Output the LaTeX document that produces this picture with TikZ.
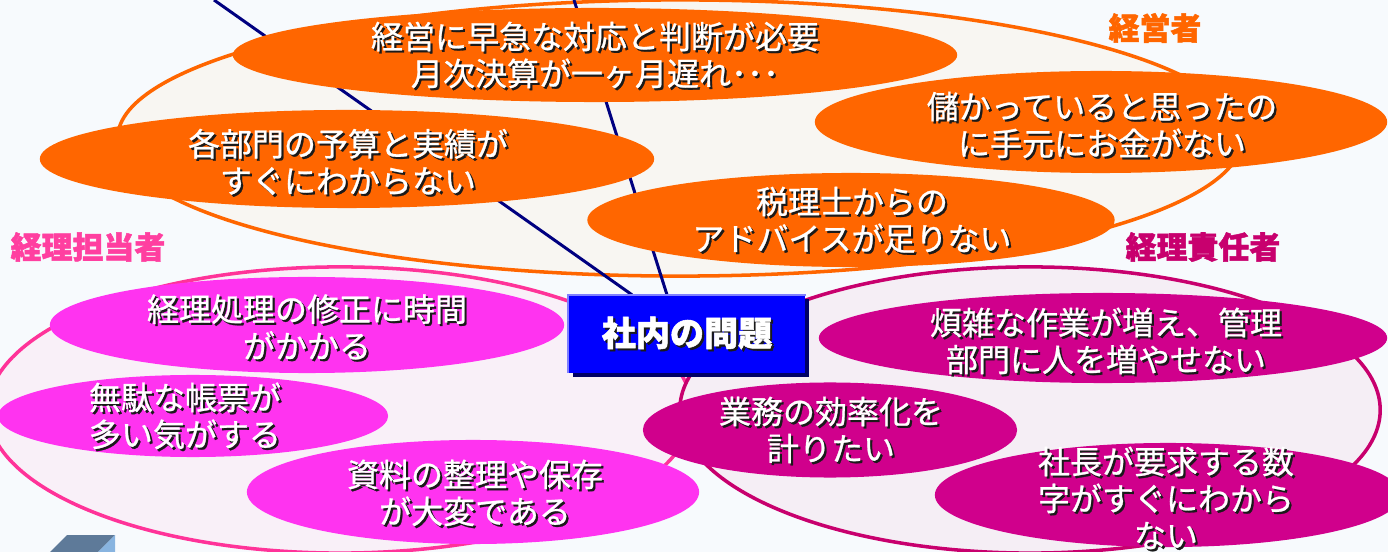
\documentclass[tikz,border=0pt]{standalone}
\usepackage{fontspec}
\setmainfont{Noto Sans CJK JP}[BoldFeatures={FakeBold=1.5}]
\newfontfamily\bubfont{Noto Sans CJK JP}[FakeBold=0.8]
\usetikzlibrary{shapes.geometric,shadows,positioning}

\definecolor{bgc}{HTML}{F7FAFD}
\definecolor{orng}{HTML}{FF6600}
\definecolor{orngbg}{HTML}{F8F6F2}
\definecolor{pinkline}{HTML}{FF3399}
\definecolor{pinkbub}{HTML}{FF33F0}
\definecolor{pinkbg}{HTML}{F9F0F8}
\definecolor{pinklab}{HTML}{FF3FA0}
\definecolor{purpline}{HTML}{C8006E}
\definecolor{purpbub}{HTML}{D0008C}
\definecolor{purpbg}{HTML}{F5EEF5}
\definecolor{navy}{HTML}{000080}
\definecolor{boxblue}{HTML}{0000FF}
\definecolor{boxedge}{HTML}{7F7FFF}
\definecolor{boxshadow}{HTML}{000066}
\definecolor{txtshadow}{HTML}{1A1A1A}
\definecolor{slabtop}{HTML}{5E7A99}
\definecolor{slabside}{HTML}{88B4E0}

\newcommand\sh[1]{\leavevmode\rlap{\kern0.6pt\raisebox{-0.6pt}{\color{txtshadow}#1}}#1}

\pgfdeclarelayer{bg}
\pgfdeclarelayer{mid}
\pgfsetlayers{bg,mid,main}

\begin{document}
\begin{tikzpicture}[x=0.01cm, y=-0.01cm,
  group/.style = {ellipse, draw, line width=1pt, inner sep=0pt},
  bubble/.style = {ellipse, inner sep=0pt},
  btext/.style = {text=white, align=center, inner sep=0pt,
    font=\bubfont\fontsize{9.1}{10.5}\selectfont},
  grouplabel/.style = {inner sep=0pt, font=\fontsize{8.8}{10}\selectfont\bfseries},
  issuebox/.style = {rectangle, fill=boxblue, text=white, inner sep=0pt,
    minimum width=2.36cm, minimum height=0.77cm,
    font=\fontsize{9.7}{11}\selectfont\bfseries,
    drop shadow={shadow xshift=0.04cm, shadow yshift=-0.04cm,
      fill=boxshadow, opacity=1}},
  navyline/.style = {draw=navy, line width=0.85pt}]
  \useasboundingbox (0,0) rectangle (1388,552);
  \clip (0,0) rectangle (1388,552);

  \begin{pgfonlayer}{bg}
    \fill[bgc] (0,0) rectangle (1388,552);
    \node[group, draw=orng, fill=orngbg,
      minimum width=11.24cm, minimum height=2.76cm] (mgr) at (680,138) {};
    \node[group, draw=pinkline, fill=pinkbg,
      minimum width=7.04cm, minimum height=2.86cm] (staff) at (340,410) {};
    \node[group, draw=purpline, fill=purpbg,
      minimum width=7.00cm, minimum height=2.86cm] (chief) at (1030,410) {};
    \fill[slabtop] (50,552) -- (67,535) -- (115,535) -- (98,552) -- cycle;
    \fill[slabside] (98,552) -- (115,535) -- (115,552) -- cycle;
  \end{pgfonlayer}

  % 経営者
  \node[bubble, fill=orng, minimum width=7.24cm, minimum height=0.94cm] (o1) at (595,55) {};
  \node[btext] (o1t) at (595,56) {\sh{経営に早急な対応と判断が必要}\\\sh{月次決算が一ヶ月遅れ･･･}};
  \node[bubble, fill=orng, minimum width=6.14cm, minimum height=0.98cm] (o2) at (347,159) {};
  \node[btext] (o2t) at (348,163) {\sh{各部門の予算と実績が}\\\sh{すぐにわからない}};
  \node[bubble, fill=orng, minimum width=5.72cm, minimum height=1.02cm] (o3) at (1101,122) {};
  \node[btext] (o3t) at (1102,126) {\sh{儲かっていると思ったの}\\\sh{に手元にお金がない}};
  \node[bubble, fill=orng, minimum width=5.27cm, minimum height=0.94cm] (o4) at (851,220) {};
  \node[btext] (o4t) at (852,221) {\sh{税理士からの}\\\sh{アドバイスが足りない}};

  % 経理担当者
  \node[bubble, fill=pinkbub, minimum width=5.14cm, minimum height=0.96cm] (p1) at (307,325) {};
  \node[btext] (p1t) at (307,328) {\sh{経理処理の修正に時間}\\\sh{がかかる}};
  \node[bubble, fill=pinkbub, minimum width=3.90cm, minimum height=0.82cm] (p2) at (193,416) {};
  \node[btext] (p2t) at (185,417) {\sh{無駄な帳票が}\\\sh{多い気がする}};
  \node[bubble, fill=pinkbub, minimum width=4.52cm, minimum height=1.04cm] (p3) at (473,492) {};
  \node[btext] (p3t) at (475,494) {\sh{資料の整理や保存}\\\sh{が大変である}};

  % 経理責任者
  \node[bubble, fill=purpbub, minimum width=5.68cm, minimum height=0.90cm] (r1) at (1103,338) {};
  \node[btext] (r1t) at (1106,342) {\sh{煩雑な作業が増え、管理}\\\sh{部門に人を増やせない}};
  \node[bubble, fill=purpbub, minimum width=3.74cm, minimum height=0.95cm] (r2) at (830,430) {};
  \node[btext] (r2t) at (831,431) {\sh{業務の効率化を}\\\sh{計りたい}};
  \node[bubble, fill=purpbub, minimum width=4.66cm, minimum height=1.04cm] (r3) at (1168,495) {};
  \node[btext] (r3t) at (1166,499) {\sh{社長が要求する数}\\\sh{字がすぐにわから}\\\sh{ない}};

  \node[issuebox] (issue) at (687,334) {\sh{社内の問題}};
  \draw[boxedge, line width=0.6pt] (issue.south west) |- (issue.north east);

  \node[grouplabel, text=orng] (mgrlab) at (1155,28) {経営者};
  \node[grouplabel, text=pinklab] (stafflab) at (88,247) {経理担当者};
  \node[grouplabel, text=purpline] (chieflab) at (1203,247) {経理責任者};

  \begin{pgfonlayer}{mid}
    \coordinate (top1) at (214,0);
    \coordinate (top2) at (574,0);
    \draw[navyline] (top1) -- ([xshift=-0.55cm]issue.north);
    \draw[navyline] (top2) -- ([xshift=-0.20cm]issue.north);
  \end{pgfonlayer}
\end{tikzpicture}
\end{document}
